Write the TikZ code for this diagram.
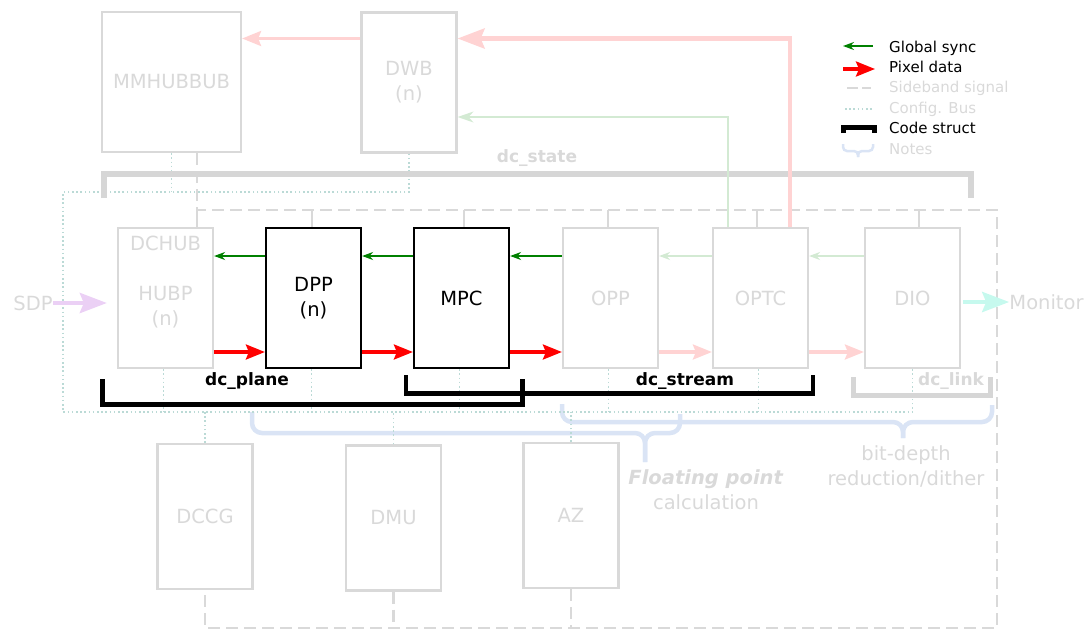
\documentclass[tikz,border=0pt]{standalone}
\usepackage{fontspec}
\setmainfont{DejaVu Sans}
\usepackage{xcolor}
\usepackage{tikz}
\usetikzlibrary{arrows.meta,positioning,calc}
\definecolor{fadegray}{HTML}{D9D9D9}
\definecolor{stategray}{HTML}{D6D6D6}
\definecolor{fadered}{HTML}{FFD3D3}
\definecolor{fadegreen}{HTML}{D3EAD3}
\definecolor{syncgreen}{HTML}{008000}
\definecolor{pixred}{HTML}{FF0000}
\definecolor{sdppurple}{HTML}{EBD0F5}
\definecolor{moncyan}{HTML}{C6F9EE}
\definecolor{cfgteal}{HTML}{BBDAD6}
\definecolor{notesblue}{HTML}{DAE4F5}

\begin{document}
\begin{tikzpicture}[x=1pt, y=-1pt,
        every node/.style={font=\fontsize{19.5}{25}\selectfont},
        blk/.style={draw=black, line width=2.2pt, fill=white, minimum width=95pt,
            minimum height=140pt, inner sep=0pt, align=center},
        ghost/.style={blk, draw=fadegray, text=fadegray},
        gtxt/.style={text=fadegray, align=center, inner sep=0pt},
        codelbl/.style={font=\fontsize{17}{20}\selectfont\bfseries, inner sep=0pt},
        legtxt/.style={font=\fontsize{15}{18}\selectfont, anchor=base west, inner sep=0pt},
        sync/.style={-{Stealth[length=11pt,width=8pt]}, syncgreen, line width=1.6pt},
        fadesync/.style={sync, fadegreen},
        pix/.style={-{Stealth[length=19pt,width=15pt,inset=3pt]}, pixred, line width=3.2pt},
        fadepix/.style={pix, fadered},
        bigflow/.style={-{Stealth[length=27pt,width=20pt,inset=4pt]}, line width=4.5pt},
        side/.style={fadegray, line width=2.5pt, dash pattern=on 12pt off 6pt},
        sidetick/.style={fadegray, line width=2.5pt},
        cfg/.style={cfgteal, line width=1.6pt, dash pattern=on 1.6pt off 2.6pt},
        code/.style={black, line width=5pt},
        note/.style={notesblue, line width=4.5pt, rounded corners=10pt}
    ]
    \useasboundingbox (0,0) rectangle (1086,630);

    % ============ notes (braces) ============
    \draw[note] (252,412) |- (645,433) -- (645,462);
    \draw[note] (645,462) -- (645,433) -| (680,414);
    \draw[note] (562,404) |- (903,422) -- (903,438);
    \draw[note] (903,438) -- (903,422) -| (992,405);

    % ============ blocks ============
    \node[ghost, minimum width=139pt] (mmhub) at (171.5,82) {MMHUBBUB};
    \node[ghost] (dwb) at (409,82.5) {DWB\\(n)};

    \node[ghost] (hubp) at (165.5,298) {};
    \node[blk]   (dpp)  at (313.5,298) {DPP\\(n)};
    \node[blk]   (mpc)  at (461.5,298) {MPC};
    \node[ghost] (opp)  at (610.5,298) {OPP};
    \node[ghost] (optc) at (760.5,298) {OPTC};
    \node[ghost] (dio)  at (912.5,298) {DIO};
    \node[gtxt] (dchub)   at (165.5,243) {DCHUB};
    \node[gtxt] (hubplbl) at (165.5,307) {HUBP\\(n)};

    \node[ghost, minimum height=145pt] (dccg) at (205,516.5) {DCCG};
    \node[ghost, minimum height=145pt] (dmu)  at (393.5,518) {DMU};
    \node[ghost, minimum height=145pt] (az)   at (571,515.5) {AZ};

    % ============ config bus ============
    \coordinate (cfgtop) at (63,192);
    \coordinate (cfgbot) at (63,412);
    \draw[cfg] (dwb.south) |- (cfgtop) -- (cfgbot) -| (dio.south);
    \draw[cfg] (mmhub.south) -- (mmhub.south |- cfgtop);
    \foreach \n in {hubp,dpp,mpc,opp,optc}
    \draw[cfg] ([xshift=-2pt]\n.south) -- ([xshift=-2pt]\n.south |- cfgbot);
    \foreach \n in {dccg,dmu,az}
    \draw[cfg] (\n.north) -- (\n.north |- cfgbot);

    % ============ sideband ============
    \coordinate (sbl) at (197,210);
    \coordinate (sbr) at (997,210);
    \coordinate (sbbr) at (997,628);
    \draw[side] (mmhub.south -| sbl) -- (sbl) -- (sbr) -- (sbbr) -- (dccg.south |- sbbr) -- (dccg.south);
    \draw[side] (dmu.south) -- (dmu.south |- sbbr);
    \draw[side] (az.south) -- (az.south |- sbbr);
    \foreach \n/\dx in {hubp/31.5, dpp/-1.5, mpc/2.5, opp/-2.5, optc/-3.5, dio/6.5}
    \draw[sidetick] ([xshift=\dx pt]\n.north) -- ([xshift=\dx pt]\n.north |- sbl);

    % ============ code structs ============
    \draw[stategray, line width=6pt] (104,198) -- (104,173.5) -- (971,173.5) -- (971,198);
    \node[codelbl, text=fadegray] (state) at (537,158) {dc\_state};
    \draw[code] (102,379) -- (102,404) -- (522,404) -- (522,379);
    \node[codelbl] (plane) at (247,381) {dc\_plane};
    \draw[code, line width=4.5pt] (406,375) -- (406,393.5) -- (813,393.5) -- (813,375);
    \node[codelbl] (stream) at (685,381) {dc\_stream};
    \draw[stategray, line width=5pt] (853,377) -- (853,395) -- (990,395) -- (990,377);
    \node[codelbl, text=fadegray] (link) at (951,381) {dc\_link};

    % ============ data paths ============
    \foreach \a/\b in {hubp/dpp, dpp/mpc, mpc/opp} {
        \draw[sync] ([yshift=42pt]\b.west) -- ([yshift=42pt]\a.east);
        \draw[pix] ([yshift=-54pt]\a.east) -- ([yshift=-54pt]\b.west);
    }
    \foreach \a/\b in {opp/optc, optc/dio} {
        \draw[fadesync] ([yshift=42pt]\b.west) -- ([yshift=42pt]\a.east);
        \draw[fadepix] ([yshift=-54pt]\a.east) -- ([yshift=-54pt]\b.west);
    }
    \draw[fadepix, line width=3pt] ([yshift=44pt]dwb.west) -- ([yshift=44pt]dwb.west -| mmhub.east);
    \draw[bigflow, fadered] ([xshift=29.5pt]optc.north) |- ([yshift=44pt]dwb.east);
    \draw[fadesync, -{Stealth[length=16pt,width=11pt]}] ([xshift=-32.5pt]optc.north) |- ([yshift=-34.5pt]dwb.east);

    \node[gtxt] (sdp) at (33,303) {SDP};
    \draw[bigflow, sdppurple] (sdp.east) -- ([xshift=-10pt]hubp.west |- sdp.east);
    \node[gtxt] (mon) at (1046.5,302) {Monitor};
    \draw[bigflow, moncyan] ([xshift=2pt]dio.east |- mon.west) -- (mon.west);

    % ============ notes text ============
    \node[gtxt] (fpnote) at (706,489.5) {\textbf{\textit{Floating point}}\\calculation};
    \node[gtxt] (bdnote) at (906,466.5) {bit-depth\\reduction/dither};

    % ============ legend ============
    \draw[sync] (873,46) -- (843,46);
    \draw[pix] (843,69) -- (875,69);
    \draw[side, dash pattern=on 11pt off 4pt] (847,88) -- (871,88);
    \draw[cfg] (845,109) -- (873,109);
    \draw[code] (843,133) -- (843,127.5) -- (874,127.5) -- (874,133);
    \draw[note, line width=2.5pt, rounded corners=4pt] (843,144) |- (858,151) -- (858,157);
    \draw[note, line width=2.5pt, rounded corners=4pt] (858,157) -- (858,151) -| (873,144);
    \node[legtxt] (lgsync) at (889,52) {Global sync};
    \node[legtxt] (lgpix) at (889,72.4) {Pixel data};
    \node[legtxt, text=fadegray] (lgside) at (889,92.8) {Sideband signal};
    \node[legtxt, text=fadegray] (lgcfg) at (889,113.2) {Config. Bus};
    \node[legtxt] (lgcode) at (889,133.6) {Code struct};
    \node[legtxt, text=fadegray] (lgnote) at (889,154) {Notes};
\end{tikzpicture}
\end{document}
